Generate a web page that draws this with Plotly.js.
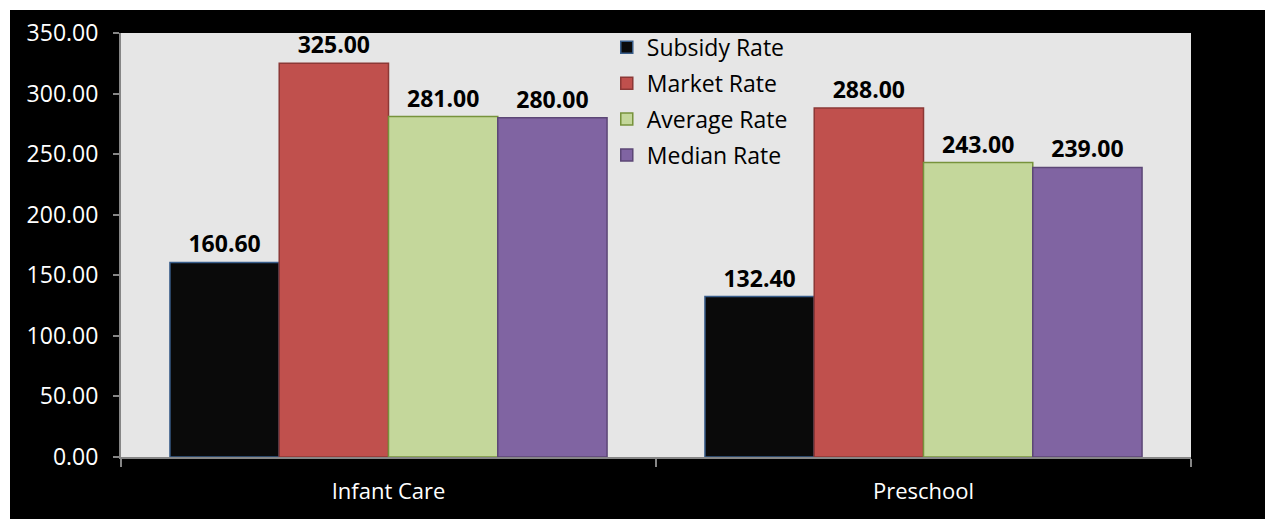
<!DOCTYPE html>
<html>
<head>
<meta charset="utf-8">
<script src="https://cdn.plot.ly/plotly-3.0.1.min.js"></script>
<style>
html,body{margin:0;padding:0;background:#ffffff;}
#chart{position:absolute;left:10px;top:10px;width:1255px;height:509px;}
</style>
</head>
<body>
<div id="chart"></div>
<script>
var categories = ["Infant Care", "Preschool"];
var seriesNames = ["Subsidy Rate", "Market Rate", "Average Rate", "Median Rate"];
var subsidyRate = [160.60, 132.40];
var marketRate = [325.00, 288.00];
var averageRate = [281.00, 243.00];
var medianRate = [280.00, 239.00];
var yTickVals = [0, 50, 100, 150, 200, 250, 300, 350];

var fills = ["#0a0a0a", "#c0504d", "#c4d79b", "#8064a2"];
var edges = ["#385d8a", "#8c3836", "#77933c", "#5c4776"];
var allValues = [subsidyRate, marketRate, averageRate, medianRate];

var traces = allValues.map(function(vals, i){
  return {
    type: "bar",
    name: seriesNames[i],
    x: categories,
    y: vals,
    legendgroup: "g" + i,
    marker: {color: fills[i], line: {color: edges[i], width: 1.5}},
    texttemplate: "<b>%{y:.2f}</b>",
    textposition: "outside",
    textfont: {family: "Open Sans", size: 23, color: "#000000"},
    cliponaxis: false,
    hoverinfo: "none"
  };
});

var layout = {
  width: 1255,
  height: 509,
  paper_bgcolor: "#000000",
  plot_bgcolor: "#e6e6e6",
  margin: {l: 111, r: 74, t: 23, b: 62},
  barmode: "group",
  bargap: 0.183,
  bargroupgap: 0,
  font: {family: "Open Sans", size: 23, color: "#ffffff"},
  showlegend: true,
  legend: {
    x: 0.454, y: 1.017, xanchor: "left", yanchor: "top",
    bgcolor: "rgba(0,0,0,0)",
    font: {family: "Open Sans", size: 23, color: "#000000"},
    traceorder: "grouped",
    tracegroupgap: 3,
    itemwidth: 30
  },
  xaxis: {
    type: "category",
    showline: true, linecolor: "#868686", linewidth: 2,
    ticks: "outside", ticklen: 8, tickcolor: "#868686", tickwidth: 2,
    tickson: "boundaries",
    ticklabelstandoff: 14,
    showgrid: false,
    tickfont: {family: "Open Sans", size: 22, color: "#ffffff"}
  },
  yaxis: {
    range: [0, 350],
    tickvals: yTickVals,
    tickformat: ".2f",
    showline: true, linecolor: "#868686", linewidth: 2,
    ticks: "outside", ticklen: 6, tickcolor: "#868686", tickwidth: 2,
    ticklabelstandoff: 10,
    showgrid: false, zeroline: false,
    tickfont: {family: "Open Sans", size: 23, color: "#ffffff"}
  }
};

Plotly.newPlot("chart", traces, layout, {displayModeBar: false, staticPlot: true});
</script>
</body>
</html>
